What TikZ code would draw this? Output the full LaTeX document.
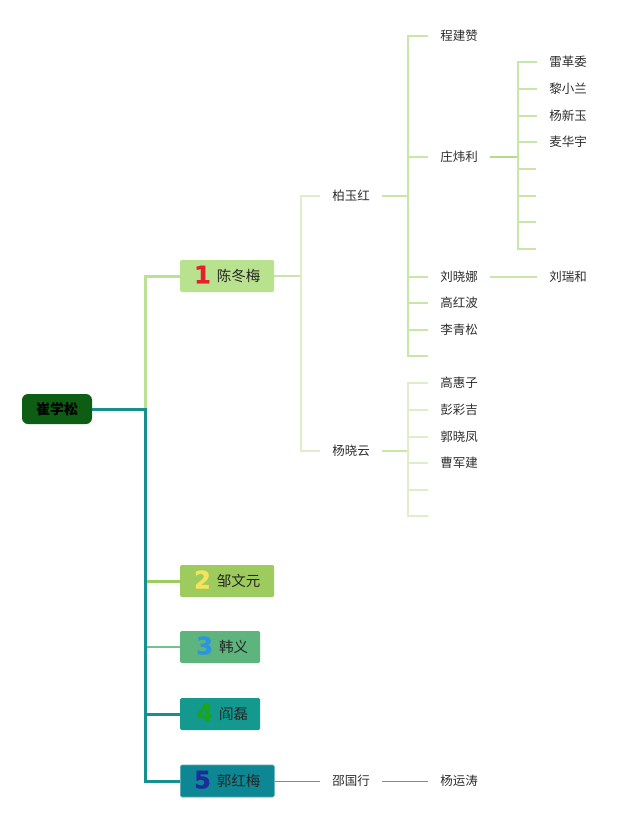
\documentclass[tikz,border=0pt]{standalone}
\usepackage{fontspec}
\setmainfont{Noto Sans CJK SC}
\newfontfamily\numfont{DejaVu Sans}[UprightFont={* Bold}, FakeBold=1.2]
\definecolor{boxa}{HTML}{B9E28F}
\definecolor{boxb}{HTML}{9DCB5D}
\definecolor{boxc}{HTML}{5DB47C}
\definecolor{boxd}{HTML}{14998E}
\definecolor{boxe}{HTML}{0E8794}
\definecolor{rootc}{HTML}{0D5E14}
\definecolor{trunkc}{HTML}{168F8F}
\definecolor{linea}{HTML}{BCE196}
\definecolor{lineb}{HTML}{9DCB5D}
\definecolor{linec}{HTML}{74C08F}
\definecolor{linee}{HTML}{3FA9B9}
\definecolor{brpale}{HTML}{DDEEC9}
\definecolor{brgreen}{HTML}{C8E6A8}
\definecolor{brstrong}{HTML}{B3DD8A}
\definecolor{diga}{HTML}{E3202B}
\definecolor{digb}{HTML}{F7E35A}
\definecolor{digc}{HTML}{2B95E3}
\definecolor{digd}{HTML}{1AA51A}
\definecolor{dige}{HTML}{1C2C9C}
\newcommand\bignum[2]{\smash{\raisebox{-1.8pt}{\numfont\fontsize{24}{24}\selectfont\color{#1}#2}}}
\begin{document}
\begin{tikzpicture}[x=1pt,y=-1pt,
  leaf/.style={inner xsep=12pt, inner ysep=2pt, font=\fontsize{12.5}{14}\selectfont, text=black!82},
  mainbox/.style={minimum height=32pt, inner xsep=8pt, inner ysep=0pt, rounded corners=1.5pt,
    font=\fontsize{14.5}{16}\selectfont, text=black!85, anchor=west},
  wide/.style={minimum width=94pt},
  narrow/.style={minimum width=80pt},
  rootbox/.style={minimum height=30pt, minimum width=70pt, rounded corners=6pt, fill=rootc,
    font=\fontsize{14}{16}\selectfont\bfseries, text=black},
  thick3/.style={line width=3pt},
  thin/.style={line width=1.4pt}
]
\useasboundingbox (0,0) rectangle (640,819);
\fill[white] (0,0) rectangle (640,819);

% root and main boxes
\node[rootbox] (root) at (57,409) {崔学松};
\node[mainbox, wide, fill=boxa] (n1) at (180,276) {\bignum{diga}{1}\hspace{6pt}陈冬梅};
\node[mainbox, wide, fill=boxb] (n2) at (180,581) {\bignum{digb}{2}\hspace{6pt}邹文元};
\node[mainbox, narrow, fill=boxc] (n3) at (180,647) {\hspace{4pt}\bignum{digc}{3}\hspace{6pt}韩义};
\node[mainbox, narrow, fill=boxd] (n4) at (180,714) {\hspace{4pt}\bignum{digd}{4}\hspace{6pt}阎磊};
\node[mainbox, wide, fill=boxe, draw=boxe!70!white, line width=0.6pt] (n5) at (180,781) {\bignum{dige}{5}\hspace{6pt}郭红梅};

\coordinate (t) at (145,409);
\draw[thick3, linea] (t) |- (n1.west);
\draw[thick3, lineb] (t) |- (n2.west);
\draw[line width=1.5pt, linec] (t) |- (n3.west);
\draw[thick3, trunkc] (t) |- (n4.west);
\draw[thick3, trunkc] (root.east) -- (t) |- (n5.west);

% level 2
\node[leaf] (byh) at (351,196) {柏玉红};
\node[leaf] (yxy) at (351,451) {杨晓云};
\coordinate (b0) at (301,276);
\draw[line width=2pt, brgreen] (n1.east) -- (b0);
\draw[thin, brpale] (b0) |- (byh.west);
\draw[thin, brpale] (b0) |- (yxy.west);

% children of 柏玉红
\node[leaf] (cjz) at (459,36) {程建赞};
\node[leaf] (zwl) at (459,157) {庄炜利};
\node[leaf] (lxn) at (459,277) {刘晓娜};
\node[leaf] (ghb) at (459,303) {高红波};
\node[leaf] (lqs) at (459,330) {李青松};
\coordinate (ea) at (428,356);
\coordinate (b1) at (408,196);
\draw[thin, brgreen] (byh.east) -- (b1);
\foreach \c in {cjz,zwl,lxn,ghb,lqs} \draw[thin, brgreen] (b1) |- (\c.west);
\draw[thin, brgreen] (b1) |- (ea);

% children of 庄炜利
\node[leaf] (lgw) at (568,62) {雷革委};
\node[leaf] (lxl) at (568,89) {黎小兰};
\node[leaf] (yxyu) at (568,116) {杨新玉};
\node[leaf] (mhy) at (568,142) {麦华宇};
\coordinate (eb1) at (536,169);
\coordinate (eb2) at (536,196);
\coordinate (eb3) at (536,222);
\coordinate (eb4) at (536,249);
\coordinate (b2) at (518,157);
\draw[thin, brstrong] (zwl.east) -- (b2);
\foreach \c in {lgw,lxl,yxyu,mhy} \draw[thin, brgreen] (b2) |- (\c.west);
\foreach \c in {eb1,eb2,eb3,eb4} \draw[thin, brgreen] (b2) |- (\c);

% 刘晓娜 -> 刘瑞和
\node[leaf] (lrh) at (568,277) {刘瑞和};
\draw[line width=1.2pt, brgreen] (lxn.east) -- (lrh.west);

% children of 杨晓云
\node[leaf] (ghz) at (459,383) {高惠子};
\node[leaf] (pcj) at (459,410) {彭彩吉};
\node[leaf] (gxf) at (459,437) {郭晓凤};
\node[leaf] (cjj) at (459,463) {曹军建};
\coordinate (ec1) at (428,490);
\coordinate (ec2) at (428,516);
\coordinate (b3) at (408,451);
\draw[thin, brgreen] (yxy.east) -- (b3);
\foreach \c in {ghz,pcj,gxf,cjj} \draw[thin, brpale] (b3) |- (\c.west);
\draw[thin, brpale] (b3) |- (ec1);
\draw[thin, brpale] (b3) |- (ec2);

% 郭红梅 chain
\node[leaf] (sgx) at (351,781) {邵国行};
\node[leaf] (yyt) at (459,781) {杨运涛};
\draw[line width=1pt, linee] (n5.east) -- (sgx.west);
\draw[line width=1pt, linee] (sgx.east) -- (yyt.west);
\end{tikzpicture}
\end{document}
